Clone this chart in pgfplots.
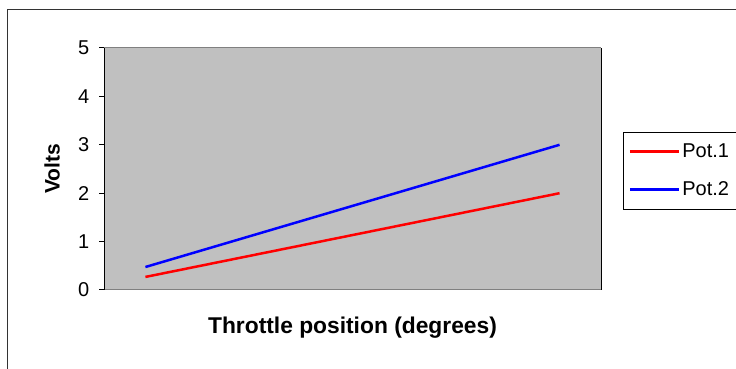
\documentclass[border=0pt]{standalone}
\usepackage{pgfplots}
\pgfplotsset{compat=1.18}
\usepackage{fontspec}
\setmainfont{Liberation Sans}
\definecolor{plotgray}{HTML}{C0C0C0}
\definecolor{bordergray}{HTML}{808080}
\begin{document}
\begin{tikzpicture}[x=1pt,y=1pt]
\fontsize{20}{24}\selectfont
\useasboundingbox (0,0) rectangle (736,369);
\draw[line width=1.2pt, black!80] (7.5,-2) -- (7.5,359.5) -- (740,359.5);
\begin{axis}[
  at={(104pt,79pt)}, anchor=south west,
  scale only axis, width=497pt, height=242pt,
  xmin=-0.5, xmax=5.5, ymin=0, ymax=5,
  ytick={0,1,2,3,4,5},
  xtick=\empty,
  ytick pos=left,
  axis background/.style={fill=plotgray},
  axis line style={bordergray, line width=1pt},
  separate axis lines,
  y axis line style={black, line width=1pt},
  ytick style={black, line width=1pt},
  tick align=outside, major tick length=5pt,
  y tick label style={font=\fontsize{20}{24}\selectfont, xshift=-3pt},
  /pgf/number format/assume math mode=true,
  ylabel={\bfseries Volts},
  ylabel style={font=\fontsize{21}{24}\selectfont, at={(rel axis cs:0,0.5)}, anchor=center, yshift=52pt},
  xlabel={\bfseries Throttle position (degrees)},
  xlabel style={font=\fontsize{22.8}{26}\selectfont, at={(rel axis cs:0.5,0)}, anchor=center, yshift=-38pt},
  legend style={at={(rel axis cs:1.044,0.653)}, anchor=north west, draw=black, line width=1pt,
    font=\fontsize{20}{24}\selectfont, inner xsep=5pt, inner ysep=9pt, row sep=17pt,
    /tikz/every even column/.append style={column sep=0pt}},
  legend cell align=left,
  legend image code/.code={\draw[#1, line width=3pt] (0pt,0pt) -- (49pt,0pt);},
]
\addplot[red, line width=2.5pt] coordinates {(0,0.27) (1,0.616) (2,0.962) (3,1.308) (4,1.654) (5,2.0)};
\addlegendentry{Pot.1}
\addplot[blue, line width=2.5pt] coordinates {(0,0.475) (1,0.98) (2,1.485) (3,1.99) (4,2.495) (5,3.0)};
\addlegendentry{Pot.2}
\end{axis}
\end{tikzpicture}
\end{document}
